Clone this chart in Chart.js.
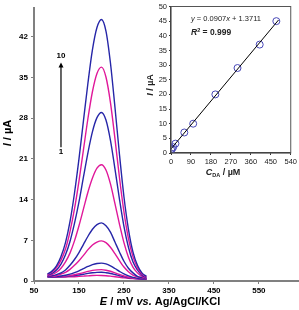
<!DOCTYPE html>
<html>
<head>
<meta charset="utf-8">
<script src="https://cdn.jsdelivr.net/npm/chart.js@4/dist/chart.umd.min.js"></script>
<style>
  body { margin: 0; background: #fff; }
  #wrap { position: relative; width: 299px; height: 310px; }
  #main { position: absolute; left: 0; top: 0; }
  #inset { position: absolute; left: 140px; top: 0; }
</style>
</head>
<body>
<div id="wrap">
  <canvas id="main" width="299" height="310"></canvas>
  <canvas id="inset" width="159" height="182"></canvas>
</div>
<script>
/* --- Data ------------------------------------------------------ */
const POTENTIALS = [80, 90, 100, 110, 120, 130, 140, 150, 160, 170, 180, 190, 200, 210, 220, 230, 240, 250, 260, 270, 280, 290, 300];

const CURVE_1  = [1.2, 1.7, 2.6, 4.2, 6.6, 10.2, 15.1, 21.0, 27.6, 34.1, 39.8, 43.6, 45.0, 43.0, 37.5, 29.9, 21.8, 14.5, 8.9, 5.0, 2.7, 1.4, 0.8];
const CURVE_2  = [1.1, 1.5, 2.3, 3.6, 5.5, 8.5, 12.4, 17.2, 22.6, 28.0, 32.6, 35.7, 36.8, 35.1, 30.7, 24.5, 17.8, 11.9, 7.3, 4.2, 2.3, 1.2, 0.7];
const CURVE_3  = [1.0, 1.3, 1.9, 2.9, 4.5, 6.8, 9.9, 13.6, 17.9, 22.1, 25.7, 28.1, 29.0, 27.7, 24.2, 19.3, 14.1, 9.4, 5.8, 3.3, 1.9, 1.0, 0.6];
const CURVE_4  = [0.9, 1.1, 1.5, 2.2, 3.3, 4.8, 6.9, 9.5, 12.4, 15.3, 17.7, 19.4, 20.0, 19.1, 16.7, 13.3, 9.8, 6.6, 4.1, 2.4, 1.4, 0.8, 0.5];
const CURVE_5  = [0.8, 0.9, 1.1, 1.4, 1.9, 2.7, 3.7, 4.9, 6.3, 7.7, 8.9, 9.7, 10.0, 9.5, 8.4, 6.7, 5.0, 3.4, 2.2, 1.4, 0.8, 0.6, 0.4];
const CURVE_6  = [0.8, 0.8, 0.9, 1.2, 1.5, 2.0, 2.7, 3.5, 4.4, 5.4, 6.2, 6.7, 6.9, 6.6, 5.8, 4.7, 3.5, 2.4, 1.6, 1.0, 0.7, 0.5, 0.4];
const CURVE_7  = [0.73, 0.74, 0.77, 0.86, 0.98, 1.17, 1.44, 1.76, 2.13, 2.5, 2.82, 3.02, 3.08, 2.94, 2.61, 2.15, 1.66, 1.21, 0.87, 0.62, 0.48, 0.38, 0.33];
const CURVE_8  = [0.72, 0.71, 0.72, 0.77, 0.83, 0.93, 1.07, 1.24, 1.44, 1.65, 1.82, 1.92, 1.95, 1.86, 1.67, 1.40, 1.12, 0.86, 0.65, 0.50, 0.42, 0.36, 0.31];
const CURVE_9  = [0.71, 0.70, 0.70, 0.73, 0.77, 0.83, 0.92, 1.04, 1.17, 1.31, 1.42, 1.49, 1.50, 1.43, 1.30, 1.11, 0.90, 0.71, 0.57, 0.46, 0.39, 0.34, 0.31];
const CURVE_10 = [0.71, 0.69, 0.68, 0.69, 0.69, 0.71, 0.74, 0.79, 0.84, 0.89, 0.94, 0.96, 0.95, 0.91, 0.84, 0.74, 0.64, 0.54, 0.46, 0.40, 0.36, 0.33, 0.30];

const CURVES = [CURVE_1, CURVE_2, CURVE_3, CURVE_4, CURVE_5, CURVE_6, CURVE_7, CURVE_8, CURVE_9, CURVE_10];

const E_TICKS = [50, 150, 250, 350, 450, 550];
const I_TICKS = [0, 7, 14, 21, 28, 35, 42];

// inset: calibration plot
const CONC    = [1, 5, 10, 20, 60, 100, 200, 300, 400, 475];
const CURRENT = [1.0, 1.5, 2.0, 3.2, 7.0, 10.0, 20.0, 29.0, 37.0, 45.0];
const FIT_X   = [0, 485];
const FIT_Y   = [1.4, 45.4];

/* --- Style ----------------------------------------------------- */
const FONT = "'Liberation Sans', Arial, sans-serif";
const NARROW = "'Liberation Sans Narrow', 'Liberation Sans', Arial, sans-serif";
const BLUE = '#2626a8';
const MAGENTA = '#e0189a';
const AXIS = '#808080';

function drawRich(ctx, parts, x, y, align) {
  let w = 0;
  parts.forEach(p => { ctx.font = p.font; p.w = ctx.measureText(p.text).width; w += p.w; });
  let cx = align === 'center' ? x - w / 2 : x;
  ctx.textAlign = 'left';
  ctx.textBaseline = 'middle';
  parts.forEach(p => { ctx.font = p.font; ctx.fillText(p.text, cx, y + (p.dy || 0)); cx += p.w; });
}

/* --- Main chart ------------------------------------------------ */
const mainDecor = {
  id: 'mainDecor',
  afterDraw(chart) {
    const ctx = chart.ctx;
    const xs = chart.scales.x, ys = chart.scales.y;
    ctx.save();
    ctx.fillStyle = '#000';
    // axis titles
    drawRich(ctx, [
      { text: 'E', font: `italic bold 11px ${FONT}` },
      { text: ' / mV ', font: `bold 11px ${FONT}` },
      { text: 'vs.', font: `italic bold 11px ${FONT}` },
      { text: ' Ag/AgCl/KCl', font: `bold 11px ${FONT}` },
    ], 160, 302, 'center');
    ctx.save();
    ctx.translate(7.5, 133);
    ctx.rotate(-Math.PI / 2);
    drawRich(ctx, [
      { text: 'I', font: `italic bold 11px ${FONT}` },
      { text: ' / µA', font: `bold 11px ${FONT}` },
    ], 0, 0, 'center');
    ctx.restore();
    // concentration arrow 1 -> 10
    const ax = xs.getPixelForValue(110);
    const y0 = ys.getPixelForValue(23), y1 = ys.getPixelForValue(37.6);
    ctx.strokeStyle = '#000';
    ctx.lineWidth = 1.2;
    ctx.beginPath(); ctx.moveTo(ax, y0); ctx.lineTo(ax, y1 + 4); ctx.stroke();
    ctx.beginPath(); ctx.moveTo(ax, y1); ctx.lineTo(ax - 2.5, y1 + 5); ctx.lineTo(ax + 2.5, y1 + 5); ctx.closePath(); ctx.fill();
    ctx.font = `bold 8px ${FONT}`;
    ctx.textAlign = 'center';
    ctx.textBaseline = 'middle';
    ctx.fillText('10', ax, ys.getPixelForValue(38.8));
    ctx.fillText('1', ax, ys.getPixelForValue(22.2));
    ctx.restore();
  }
};

new Chart(document.getElementById('main'), {
  type: 'line',
  data: {
    datasets: CURVES.map((c, i) => ({
      data: POTENTIALS.map((e, j) => ({ x: e, y: c[j] })),
      borderColor: i % 2 === 0 ? BLUE : MAGENTA,
      borderWidth: 1.4,
      pointRadius: 0,
      cubicInterpolationMode: 'monotone',
      fill: false,
    }))
  },
  options: {
    responsive: false,
    animation: false,
    layout: { padding: { top: 0, right: 1, left: 0, bottom: 0 } },
    plugins: { legend: { display: false }, tooltip: { enabled: false } },
    scales: {
      x: {
        type: 'linear', min: 50, max: 637,
        afterBuildTicks: s => { s.ticks = E_TICKS.map(v => ({ value: v })); },
        afterFit: s => { s.height = 29; },
        grid: { drawOnChartArea: false, tickLength: 3, color: AXIS },
        border: { color: AXIS, width: 2 },
        ticks: { font: { family: FONT, size: 8, weight: 'bold' }, color: '#000', padding: 2, maxRotation: 0, autoSkip: false },
      },
      y: {
        min: 0, max: 47,
        afterBuildTicks: s => { s.ticks = I_TICKS.map(v => ({ value: v })); },
        afterFit: s => { s.width = 34; },
        grid: { drawOnChartArea: false, tickLength: 3, color: AXIS },
        border: { color: AXIS, width: 2 },
        ticks: { font: { family: FONT, size: 8, weight: 'bold' }, color: '#000', padding: 3 },
      }
    }
  },
  plugins: [mainDecor]
});

/* --- Inset: calibration --------------------------------------- */
const insetDecor = {
  id: 'insetDecor',
  beforeDraw(chart) {
    const { ctx, chartArea: a } = chart;
    ctx.save();
    ctx.fillStyle = '#fff';
    ctx.fillRect(a.left, a.top, a.right - a.left, a.bottom - a.top);
    ctx.restore();
  },
  afterDraw(chart) {
    const { ctx, chartArea: a } = chart;
    ctx.save();
    ctx.strokeStyle = '#555';
    ctx.lineWidth = 1;
    ctx.strokeRect(a.left, a.top, a.right - a.left, a.bottom - a.top);
    ctx.fillStyle = '#222';
    drawRich(ctx, [
      { text: 'y', font: `italic 7.5px ${NARROW}` },
      { text: ' = 0.0907', font: `7.5px ${NARROW}` },
      { text: 'x', font: `italic 7.5px ${NARROW}` },
      { text: ' + 1.3711', font: `7.5px ${NARROW}` },
    ], 51, 19, 'left');
    drawRich(ctx, [
      { text: 'R', font: `italic bold 8.5px ${NARROW}` },
      { text: '2', font: `bold 5.5px ${NARROW}`, dy: -3 },
      { text: ' = 0.999', font: `bold 8.5px ${NARROW}` },
    ], 51, 33, 'left');
    drawRich(ctx, [
      { text: 'C', font: `italic bold 9px ${NARROW}` },
      { text: 'DA', font: `bold 5.5px ${NARROW}`, dy: 2 },
      { text: ' / µM', font: `bold 9px ${NARROW}` },
    ], 83, 173, 'center');
    ctx.save();
    ctx.translate(11, 85);
    ctx.rotate(-Math.PI / 2);
    drawRich(ctx, [
      { text: 'I', font: `italic bold 9px ${NARROW}` },
      { text: ' / µA', font: `bold 9px ${NARROW}` },
    ], 0, 0, 'center');
    ctx.restore();
    ctx.restore();
  }
};

new Chart(document.getElementById('inset'), {
  type: 'scatter',
  data: {
    datasets: [
      {
        type: 'line',
        data: FIT_X.map((x, i) => ({ x, y: FIT_Y[i] })),
        borderColor: '#000',
        borderWidth: 1,
        pointRadius: 0,
      },
      {
        data: CONC.map((c, i) => ({ x: c, y: CURRENT[i] })),
        pointStyle: 'circle',
        pointRadius: 3.5,
        borderColor: '#4848b8',
        backgroundColor: 'rgba(0,0,0,0)',
        borderWidth: 1,
      }
    ]
  },
  options: {
    responsive: false,
    animation: false,
    layout: { padding: { top: 5, right: 6, left: 0, bottom: 0 } },
    plugins: { legend: { display: false }, tooltip: { enabled: false } },
    scales: {
      x: {
        type: 'linear', min: 0, max: 540,
        afterFit: s => { s.height = 29; },
        grid: { drawOnChartArea: false, tickLength: 2, color: '#333' },
        border: { color: '#333', width: 1.2 },
        ticks: { stepSize: 90, font: { family: NARROW, size: 7.5 }, color: '#222', padding: 2, maxRotation: 0, autoSkip: false },
      },
      y: {
        min: 0, max: 50,
        afterFit: s => { s.width = 31; },
        grid: { drawOnChartArea: false, tickLength: 2, color: '#333' },
        border: { color: '#333', width: 1.2 },
        ticks: { stepSize: 5, font: { family: NARROW, size: 7.5 }, color: '#222', padding: 2 },
      }
    }
  },
  plugins: [insetDecor]
});
</script>
</body>
</html>
